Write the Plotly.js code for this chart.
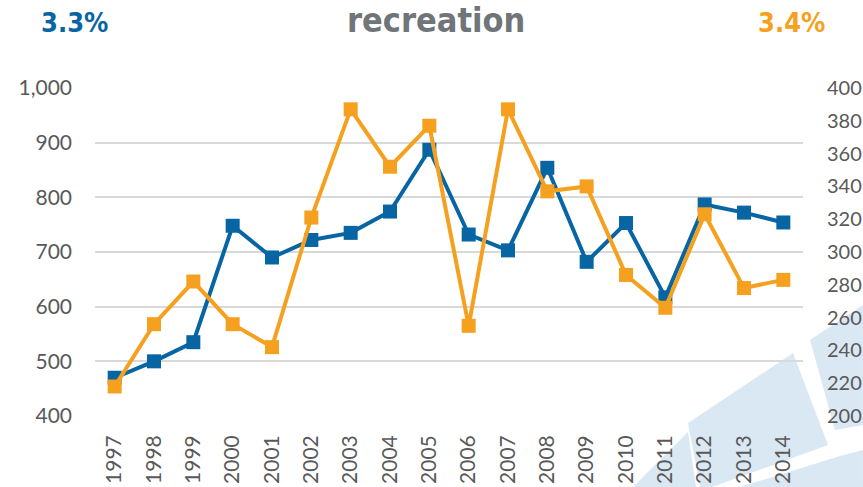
<!DOCTYPE html>
<html>
<head>
<meta charset="utf-8">
<script src="https://cdn.plot.ly/plotly-3.0.1.min.js"></script>
<style>
  html, body { margin: 0; padding: 0; background: #fff; }
  #chart { width: 863px; height: 487px; }
</style>
</head>
<body>
<div id="chart"></div>
<script>
const years = ['1997', '1998', '1999', '2000', '2001', '2002', '2003', '2004', '2005',
  '2006', '2007', '2008', '2009', '2010', '2011', '2012', '2013', '2014'];

// left axis (blue)
const blueValues = [470, 500, 535, 748, 690, 722, 735, 774, 887,
  732, 703, 854, 682, 753, 617, 787, 772, 754];

// right axis (orange)
const orangeValues = [218, 256, 282, 256, 242, 321, 387, 352, 377,
  255, 387, 337, 340, 286, 266, 323, 278, 283];

const blueLabel = '3.3%';
const orangeLabel = '3.4%';
const chartTitle = 'recreation';

const BLUE = '#0865a3';
const ORANGE = '#f5a11f';
const GREY = '#595959';

// plot area in pixels
const W = 863, H = 487;
const M = { l: 95, r: 60, t: 88, b: 71 };
const pw = W - M.l - M.r, ph = H - M.t - M.b;
const px = x => (x - M.l) / pw;
const py = y => (H - M.b - y) / ph;

// faint logo pieces in the lower right corner (pixel outlines)
const logoPieces = [
  [[688, 423], [793, 353], [828, 445], [712, 487], [700, 487]],
  [[633, 487], [688, 432], [696, 487]],
  [[810, 340], [863, 305], [863, 425], [835, 430]],
  [[740, 487], [840, 456], [863, 450], [863, 487]]
];
const logoShapes = logoPieces.map(pts => ({
  type: 'path', xref: 'paper', yref: 'paper', layer: 'below',
  path: pts.map((q, i) => (i ? 'L' : 'M') + px(q[0]).toFixed(4) + ',' + py(q[1]).toFixed(4)).join(' ') + ' Z',
  fillcolor: 'rgb(218,232,243)', line: { width: 0 }
}));

const traces = [
  {
    x: years, y: blueValues, type: 'scatter', mode: 'lines+markers',
    line: { color: BLUE, width: 4 },
    marker: { symbol: 'square', size: 14, color: BLUE },
    yaxis: 'y', hoverinfo: 'x+y'
  },
  {
    x: years, y: orangeValues, type: 'scatter', mode: 'lines+markers',
    line: { color: ORANGE, width: 4 },
    marker: { symbol: 'square', size: 14, color: ORANGE },
    yaxis: 'y2', hoverinfo: 'x+y'
  }
];

const tickFont = { family: 'Lato, "DejaVu Sans", sans-serif', size: 21, color: GREY };

const layout = {
  width: W, height: H,
  margin: M,
  paper_bgcolor: 'rgba(0,0,0,0)',
  plot_bgcolor: 'rgba(0,0,0,0)',
  showlegend: false,
  shapes: logoShapes,
  xaxis: {
    type: 'category',
    range: [-0.5, years.length - 0.5],
    tickangle: -90,
    tickfont: tickFont,
    showgrid: false, zeroline: false, showline: false,
    ticks: '', ticklabelstandoff: 14
  },
  yaxis: {
    range: [400, 1000], dtick: 100,
    tickformat: ',d', separatethousands: true,
    tickfont: tickFont,
    showgrid: true, gridcolor: '#d9d9d9', gridwidth: 2,
    zeroline: false, showline: false,
    ticks: '', ticklabelstandoff: 22
  },
  yaxis2: {
    overlaying: 'y', side: 'right',
    range: [200, 400], dtick: 20,
    tickfont: { family: 'Lato, "DejaVu Sans", sans-serif', size: 20, color: GREY },
    showgrid: false, zeroline: false, showline: false,
    ticks: '', ticklabelstandoff: 23
  },
  annotations: [
    {
      text: '<b>' + chartTitle + '</b>', xref: 'paper', yref: 'paper',
      x: px(436), y: py(20), xanchor: 'center', yanchor: 'middle', showarrow: false,
      font: { family: '"DejaVu Sans Condensed", "DejaVu Sans", sans-serif', size: 34, color: '#6f7579' }
    },
    {
      text: '<b>' + blueLabel + '</b>', xref: 'paper', yref: 'paper',
      x: px(74), y: py(22), xanchor: 'center', yanchor: 'middle', showarrow: false,
      font: { family: '"DejaVu Sans Condensed", "DejaVu Sans", sans-serif', size: 27, color: BLUE }
    },
    {
      text: '<b>' + orangeLabel + '</b>', xref: 'paper', yref: 'paper',
      x: px(791), y: py(22), xanchor: 'center', yanchor: 'middle', showarrow: false,
      font: { family: '"DejaVu Sans Condensed", "DejaVu Sans", sans-serif', size: 27, color: ORANGE }
    }
  ]
};

Plotly.newPlot('chart', traces, layout, { displayModeBar: false, staticPlot: true });
</script>
</body>
</html>
